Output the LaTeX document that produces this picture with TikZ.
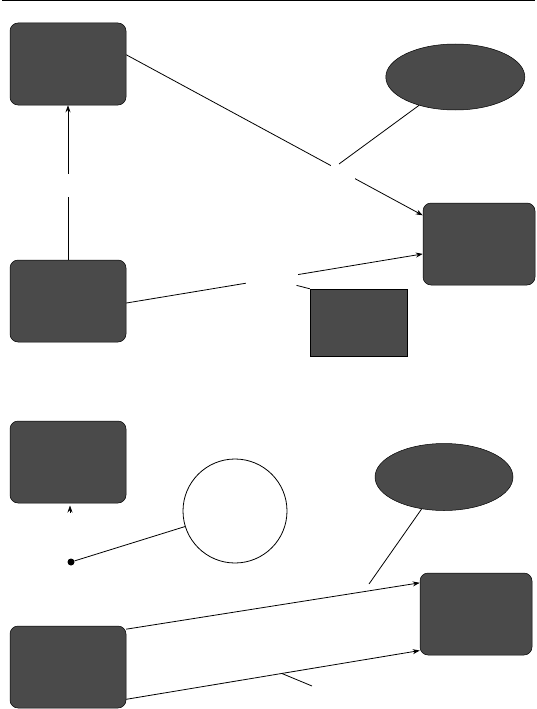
\documentclass[tikz,border=0pt]{standalone}
\usetikzlibrary{shapes.geometric,arrows.meta}
\definecolor{boxgray}{HTML}{4A4A4A}
\begin{document}
\begin{tikzpicture}[x=1pt,y=-1pt,
  conn/.style={line width=0.8pt},
  arr/.style={conn,-{Stealth[length=7pt,width=5pt]}},
  rbox/.style={draw=black,line width=0.5pt,fill=boxgray,rounded corners=8pt,minimum width=116pt,minimum height=82pt,inner sep=0pt},
  sbox/.style={draw=black,line width=0.5pt,fill=boxgray,minimum width=97pt,minimum height=67pt,inner sep=0pt},
  oval/.style={ellipse,draw=black,line width=0.5pt,fill=boxgray,inner sep=0pt},
  ring/.style={circle,draw=black,line width=0.8pt,fill=white,minimum size=104pt,inner sep=0pt},
  gap/.style={fill=white,inner sep=0pt},
  dotnode/.style={circle,fill=black,inner sep=0pt,minimum size=7pt}]
\useasboundingbox (0,0) rectangle (537,709);
% top rule
\coordinate (r1) at (2,0.75);
\coordinate (r2) at (535,0.75);
\draw[line width=1.5pt] (r1) -- (r2);
% top half nodes
\node[rbox] (A) at (68,64) {};
\node[rbox] (C) at (68,301) {};
\node[rbox,minimum width=112pt] (B) at (479,244) {};
\node[oval,minimum width=139pt,minimum height=66pt] (E1) at (455.3,77) {};
\node[sbox] (D) at (358.5,322.5) {};
% top half connectors
\draw[arr] (A.9) -- node[gap,pos=0.73,minimum width=24pt,minimum height=14pt] (L1) {} (B.153);
\coordinate (c1) at (339,164);
\draw[conn] (E1.218) -- (c1);
\draw[arr] (C.north) -- node[gap,pos=0.48,minimum width=8pt,minimum height=23pt] (L3) {} (A.south);
\draw[arr] (C.-2) -- node[gap,pos=0.49,minimum width=52pt,minimum height=12pt] (L2) {} (B.190);
\draw[conn] (L2) -- (D.north west);
% bottom half nodes
\node[rbox] (F) at (68,462) {};
\node[ring] (K) at (235,511) {};
\node[oval,minimum width=138pt,minimum height=67pt] (E2) at (444,477) {};
\node[rbox,minimum width=112pt] (G) at (476,614) {};
\node[rbox] (H) at (68,667) {};
\node[dotnode] (P) at (71,562) {};
% bottom half connectors
\coordinate (f1) at (70,513);
\coordinate (f2) at (70,505.5);
\draw[arr] (f1) -- (f2);
\draw[conn] (P) -- (K);
\coordinate (c2) at (369,584);
\draw[conn] (E2.235) -- (c2);
\draw[arr] (H.33) -- (G.151);
\draw[arr] (H.-29) -- coordinate[pos=0.53] (h1) (G.213);
\coordinate (c3) at (312,686);
\draw[conn] (h1) -- (c3);
\end{tikzpicture}
\end{document}
